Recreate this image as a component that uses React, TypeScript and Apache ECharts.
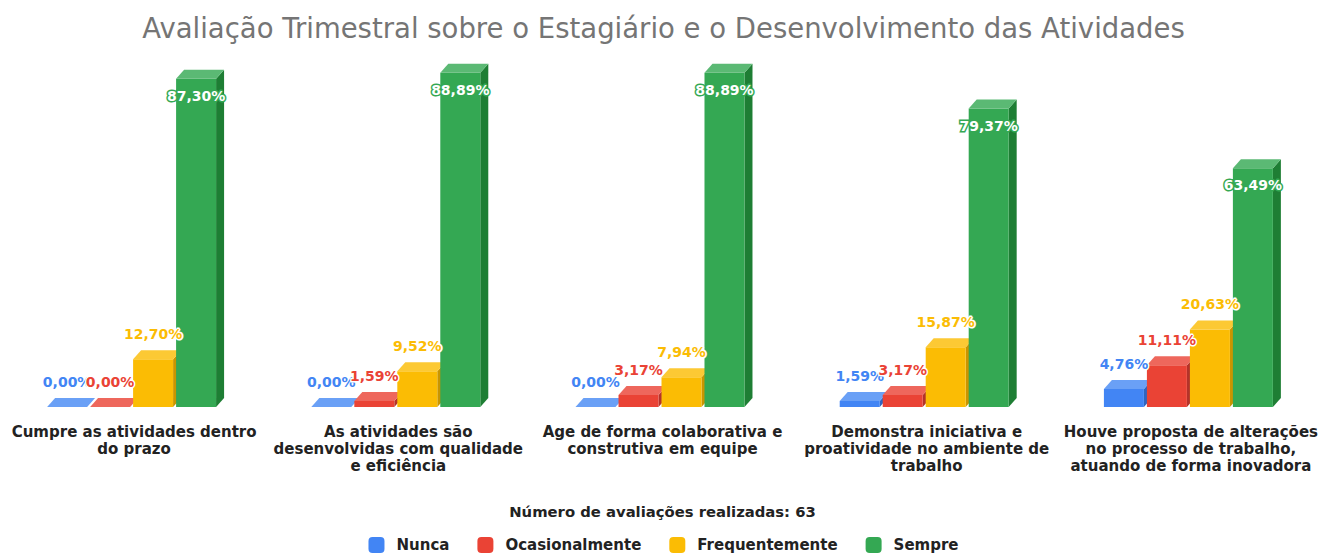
import React, { useEffect, useRef } from "react";
import * as echarts from "echarts";

const categories = [
  "Cumpre as atividades dentro\ndo prazo",
  "As atividades são\ndesenvolvidas com qualidade\ne eficiência",
  "Age de forma colaborativa e\nconstrutiva em equipe",
  "Demonstra iniciativa e\nproatividade no ambiente de\ntrabalho",
  "Houve proposta de alterações\nno processo de trabalho,\natuando de forma inovadora",
];

const seriesNames = ["Nunca", "Ocasionalmente", "Frequentemente", "Sempre"];
const nunca = [0.0, 0.0, 0.0, 1.59, 4.76];
const ocasionalmente = [0.0, 1.59, 3.17, 3.17, 11.11];
const frequentemente = [12.7, 9.52, 7.94, 15.87, 20.63];
const sempre = [87.3, 88.89, 88.89, 79.37, 63.49];
const seriesValues = [nunca, ocasionalmente, frequentemente, sempre];

const frontColors = ["#4285f4", "#ea4335", "#fbbc04", "#34a853"];
const topColors = ["#6aa0f6", "#ee675c", "#fcc934", "#5bb974"];
const sideColors = ["#2f65c0", "#b3332a", "#c99500", "#1e7e34"];

const titleText = "Avaliação Trimestral sobre o Estagiário e o Desenvolvimento das Atividades";
const axisTitle = "Número de avaliações realizadas: 63";

const FONT = "DejaVu Sans";

function fmt(v: number) {
  return v.toFixed(2).replace(".", ",") + "%";
}

export default function App() {
  const ref = useRef<HTMLDivElement>(null);
  useEffect(() => {
    if (!ref.current) return;
    const chart = echarts.init(ref.current, null, { renderer: "svg" });
    const series = seriesValues.map((vals, si) => ({
      type: "custom",
      name: seriesNames[si],
      itemStyle: { color: frontColors[si] },
      encode: { x: 0, y: 1 },
      data: vals.map((v, ci) => [ci, v]),
      renderItem: (params: any, api: any) => {
        const ci = api.value(0);
        const v = api.value(1);
        const base = api.coord([ci, 0]);
        const top = api.coord([ci, v]);
        const band = api.size([1, 0])[0];
        const k = band / 264.25;
        const barW = 40 * k;
        const stride = 43 * k;
        const dx = 8 * k;
        const dy = 9;
        const x0 = base[0] - 87 * k + si * stride;
        const yb = base[1];
        const yt = top[1];
        const children: any[] = [];
        children.push({
          type: "polygon",
          shape: { points: [[x0 + barW, yt], [x0 + barW + dx, yt - dy], [x0 + barW + dx, yb - dy], [x0 + barW, yb]] },
          style: { fill: sideColors[si] },
        });
        if (yb - yt > 0.1) {
          children.push({
            type: "rect",
            shape: { x: x0, y: yt, width: barW, height: yb - yt },
            style: { fill: frontColors[si] },
          });
        }
        children.push({
          type: "polygon",
          shape: { points: [[x0, yt], [x0 + dx, yt - dy], [x0 + barW + dx, yt - dy], [x0 + barW, yt]] },
          style: { fill: topColors[si] },
        });
        const inside = v > 50;
        children.push({
          type: "text",
          z2: 100,
          x: x0 + barW / 2,
          y: inside ? yt + 17 : yt - 25,
          style: {
            text: fmt(v),
            fill: inside ? "#ffffff" : frontColors[si],
            stroke: inside ? frontColors[si] : "#ffffff",
            lineWidth: 3,
            font: "bold 14px 'DejaVu Sans'",
            align: "center",
            verticalAlign: "middle",
          },
        });
        return { type: "group", children };
      },
    }));
    chart.setOption({
      animation: false,
      title: {
        text: titleText,
        left: "center",
        top: 9,
        textStyle: { fontFamily: FONT, fontSize: 27.5, fontWeight: "normal", color: "#757575" },
      },
      grid: { left: 2, right: 4, top: 31, bottom: 151, containLabel: false },
      xAxis: {
        type: "category",
        data: categories,
        axisLine: { show: false },
        axisTick: { show: false },
        axisLabel: {
          interval: 0,
          margin: 16,
          fontFamily: FONT,
          fontWeight: "bold",
          fontSize: 15,
          lineHeight: 17,
          color: "#222222",
          align: "center",
          verticalAlign: "top",
        },
        name: axisTitle,
        nameLocation: "middle",
        nameGap: 97,
        nameTextStyle: { fontFamily: FONT, fontWeight: "bold", fontSize: 14.8, color: "#222222" },
      },
      yAxis: {
        type: "value",
        min: 0,
        max: 100,
        show: false,
        splitLine: { show: false },
      },
      legend: {
        data: seriesNames,
        top: 532,
        left: "center",
        icon: "roundRect",
        itemWidth: 16,
        itemHeight: 16,
        itemGap: 28,
        textStyle: { fontFamily: FONT, fontWeight: "bold", fontSize: 15, color: "#222222", padding: [0, 0, 0, 7] },
      },
      series,
    });
    return () => chart.dispose();
  }, []);
  return <div ref={ref} style={{ position: "absolute", left: 0, top: 0, width: 1327, height: 558 }} />;
}
